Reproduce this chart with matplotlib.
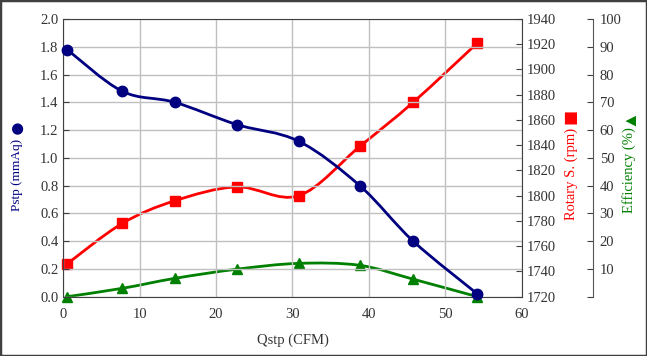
import numpy as np
import matplotlib
matplotlib.use("Agg")
import matplotlib.pyplot as plt
from matplotlib.path import Path
from matplotlib.patches import PathPatch, Rectangle

# values
qstp = [0.5, 7.7, 14.6, 22.7, 30.8, 38.8, 45.8, 54.2]
pstp = [1.78, 1.48, 1.40, 1.24, 1.12, 0.80, 0.40, 0.02]
rpm = [1746, 1778, 1796, 1807, 1800, 1839, 1874, 1921]
eff = [0.0, 3.0, 6.6, 9.9, 12.0, 11.3, 6.3, 0.0]

NAVY = "#000080"
RED = "#ff0000"
GREEN = "#008000"
TXT = "#333333"

plt.rcParams['font.family'] = ['Liberation Serif', 'DejaVu Sans']
plt.rcParams['font.size'] = 10.5


def smooth_path(xs, ys):
    """Excel-like smoothed line (Catmull-Rom via cubic Bezier)."""
    pts = np.column_stack([xs, ys]).astype(float)
    n = len(pts)
    verts = [pts[0]]
    codes = [Path.MOVETO]
    for i in range(n - 1):
        p0 = pts[i - 1] if i > 0 else pts[i]
        p1 = pts[i]
        p2 = pts[i + 1]
        p3 = pts[i + 2] if i + 2 < n else pts[i + 1]
        c1 = p1 + (p2 - p0) / 6.0
        c2 = p2 - (p3 - p1) / 6.0
        verts += [c1, c2, p2]
        codes += [Path.CURVE4] * 3
    return Path(verts, codes)


def draw_series(ax, xs, ys, color, marker, ms):
    ax.add_patch(PathPatch(smooth_path(xs, ys), fill=False, edgecolor=color,
                           lw=2.0, clip_on=False, zorder=3))
    ax.plot(xs, ys, linestyle='none', marker=marker, ms=ms, color=color,
            clip_on=False, zorder=4)


fig = plt.figure(figsize=(6.47, 3.56), dpi=100)
ax = fig.add_axes([0.0978, 0.1666, 0.7085, 0.780])
ax2 = ax.twinx()
ax3 = ax.twinx()

# main axis
ax.set_xlim(0, 60)
ax.set_ylim(0, 2.0)
ax.set_xticks(range(0, 61, 10))
ax.set_yticks(np.arange(0, 2.01, 0.2))
ax.set_yticklabels([f"{v:.1f}" for v in np.arange(0, 2.01, 0.2)])
ax.grid(True, color="#c0c0c0", lw=1.0)
ax.set_axisbelow(True)
ax.tick_params(direction='in', length=4, colors="#404040", labelcolor=TXT)
ax.tick_params(axis='x', length=0, pad=8)
for s in ax.spines.values():
    s.set_color("#404040")
ax.set_xlabel("Qstp (CFM)", color=TXT, labelpad=9)

# rotary speed axis
ax2.set_ylim(1720, 1940)
ax2.set_yticks(range(1720, 1941, 20))
ax2.tick_params(direction='in', length=4, colors="#404040", labelcolor=TXT)
for s in ax2.spines.values():
    s.set_visible(False)

# efficiency axis
ax3.set_ylim(0, 100)
ax3.set_yticks(range(0, 101, 10))
ax3.set_yticklabels([""] + [str(v) for v in range(10, 101, 10)])
ax3.spines['right'].set_position(('axes', 1.155))
for k in ['left', 'top', 'bottom']:
    ax3.spines[k].set_visible(False)
ax3.spines['right'].set_color("#555555")
ax3.tick_params(direction='in', length=4, colors="#404040", labelcolor=TXT, pad=5)

draw_series(ax, qstp, pstp, NAVY, 'o', 7.5)
draw_series(ax2, qstp, rpm, RED, 's', 7.5)
draw_series(ax3, qstp, eff, GREEN, '^', 7.5)
ax.set_zorder(ax3.get_zorder() + 1)
ax.patch.set_visible(False)

# axis titles with their marker symbols
fig.text(0.027, 0.508, "Pstp (mmAq)", rotation=90, color=NAVY, fontsize=9.5,
         ha='center', va='center')
fig.text(0.027, 0.645, "●", rotation=90, color=NAVY, fontsize=19,
         ha='center', va='center')
fig.text(0.8836, 0.512, "Rotary S. (rpm)", rotation=90, color=RED,
         ha='center', va='center')
fig.text(0.8836, 0.672, "■", rotation=90, color=RED, fontsize=18,
         ha='center', va='center')
fig.text(0.972, 0.522, "Efficiency (%)", rotation=90, color=GREEN,
         ha='center', va='center')
fig.text(0.972, 0.672, "▲", rotation=90, color=GREEN, fontsize=13,
         ha='center', va='center')

fig.add_artist(Rectangle((0, 0), 1, 1, transform=fig.transFigure, fill=False,
                         edgecolor="#404040", lw=2.5))

fig.savefig("out.png", dpi=100)
